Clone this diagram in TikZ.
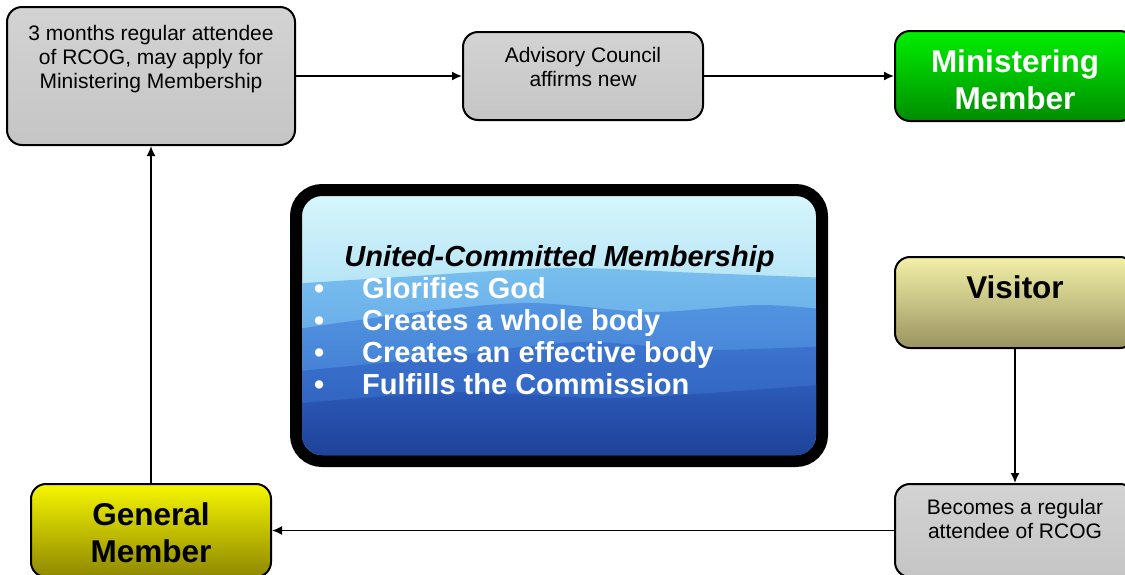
\documentclass[tikz,border=0pt]{standalone}
\usepackage{fontspec}
\setmainfont{Liberation Sans}
\usetikzlibrary{positioning, arrows.meta}

\definecolor{graytop}{HTML}{D3D3D3}
\definecolor{graybot}{HTML}{C5C5C5}
\definecolor{greentop}{HTML}{00F000}
\definecolor{greenbot}{HTML}{008C00}
\definecolor{yellowtop}{HTML}{F6F600}
\definecolor{yellowbot}{HTML}{8E8800}
\definecolor{olivetop}{HTML}{F3F0A8}
\definecolor{olivebot}{HTML}{9A9460}
\definecolor{skytop}{HTML}{D8F7FB}
\definecolor{skybot}{HTML}{78C2EF}
\definecolor{hillAtop}{HTML}{78BFEF}
\definecolor{hillAbot}{HTML}{4A88DA}
\definecolor{hillBtop}{HTML}{5294E0}
\definecolor{hillBbot}{HTML}{3468C6}
\definecolor{hillCtop}{HTML}{3C74CF}
\definecolor{hillCbot}{HTML}{2755B4}
\definecolor{hillDtop}{HTML}{2C5BB9}
\definecolor{hillDbot}{HTML}{1B3D93}

\begin{document}
\begin{tikzpicture}[x=1pt, y=-1pt,
    every node/.style={inner sep=0pt},
    stage/.style={draw, line width=2pt, rounded corners=15pt,
        minimum width=240pt, minimum height=89pt},
    plain/.style={stage, top color=graytop, bottom color=graybot},
    small/.style={align=center, font=\fontsize{21}{24}\selectfont},
    big/.style={align=center, font=\bfseries\fontsize{31.5}{37}\selectfont},
    panel/.style={draw, line width=12pt, rounded corners=26pt,
        minimum width=526pt, minimum height=271pt,
        top color=skytop, bottom color=skybot},
    head/.style={font=\bfseries\itshape\fontsize{29}{32}\selectfont},
    points/.style={align=left, text=white, font=\bfseries\fontsize{29}{32}\selectfont},
    link/.style={draw, -{Latex[length=10pt, width=9pt]}, line width=1.6pt}
    ]

    \useasboundingbox (0,0) rectangle (1125,574);
    \clip (0,0) rectangle (1125,574);

    % Top row
    \node[plain, minimum width=288pt, minimum height=138pt] (apply) at (151,76) {};
    \node[small, below=19pt of apply.north] {3 months regular attendee\\of RCOG, may apply for\\Ministering Membership};
    \node[plain, minimum height=88pt] (affirm) at (583,76) {};
    \node[small, below=16pt of affirm.north] {Advisory Council\\affirms new};
    \node[stage, top color=greentop, bottom color=greenbot, minimum height=90pt] (minister) at (1015,76) {};
    \node[big, text=white, below=19pt of minister.north] {Ministering\\Member};

    % Right column
    \node[stage, top color=olivetop, bottom color=olivebot, minimum height=91pt] (visitor) at (1015,302.5) {};
    \node[big, below=19pt of visitor.north] {Visitor};
    \node[plain, minimum height=93pt] (attend) at (1015,530.5) {};
    \node[small, below=16pt of attend.north] {Becomes a regular\\attendee of RCOG};

    % Bottom left
    \node[stage, top color=yellowtop, bottom color=yellowbot, minimum height=93pt] (general) at (151,530.5) {};
    \node[big, below=19pt of general.north] {General\\Member};

    % Centre panel
    \node[panel] (core) at (559,325.5) {};
    \begin{scope}
        \clip[rounded corners=20pt] ([shift={(12,12)}]core.north west) rectangle ([shift={(-12,-12)}]core.south east);
        \shade[top color=hillAtop, bottom color=hillAbot] plot[smooth] coordinates
            {(290,284) (400,277) (560,268) (700,273) (830,278)} -- (830,470) -- (290,470) -- cycle;
        \shade[top color=hillBtop, bottom color=hillBbot] plot[smooth] coordinates
            {(290,330) (420,312) (530,303) (650,312) (760,305) (830,310)} -- (830,470) -- (290,470) -- cycle;
        \shade[top color=hillCtop, bottom color=hillCbot] plot[smooth] coordinates
            {(290,372) (430,358) (580,342) (700,350) (830,346)} -- (830,470) -- (290,470) -- cycle;
        \shade[top color=hillDtop, bottom color=hillDbot] plot[smooth] coordinates
            {(290,404) (460,392) (620,398) (830,384)} -- (830,470) -- (290,470) -- cycle;
    \end{scope}
    \node[head, anchor=base] (title) at (559.5,266) {United-Committed Membership};
    \node[points, anchor=north west] (list) at (314,277)
        {\makebox[48pt][l]{\textbullet}Glorifies God\\
         \makebox[48pt][l]{\textbullet}Creates a whole body\\
         \makebox[48pt][l]{\textbullet}Creates an effective body\\
         \makebox[48pt][l]{\textbullet}Fulfills the Commission};

    % Connectors
    \draw[link] (apply) -- (affirm);
    \draw[link] (affirm) -- (minister);
    \draw[link] (visitor) -- (attend);
    \draw[link] (attend) -- (general);
    \draw[link] (general) -- (apply);
\end{tikzpicture}
\end{document}
